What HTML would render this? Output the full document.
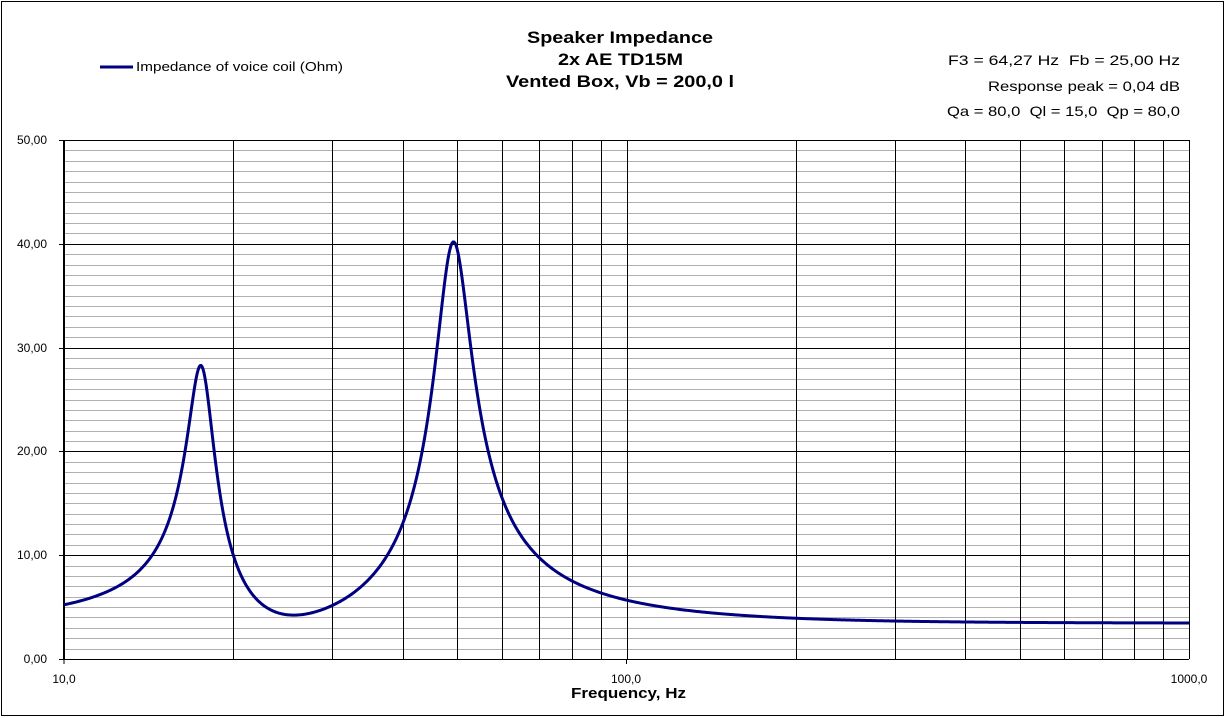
<!DOCTYPE html>
<html><head><meta charset="utf-8"><style>
body{margin:0;background:#fff;}
svg{display:block;font-family:"Liberation Sans",sans-serif;}
</style></head><body>
<svg id="s" width="1226" height="718" xmlns="http://www.w3.org/2000/svg">
<rect x="1.5" y="1.5" width="1222" height="714" fill="#fff" stroke="#000" stroke-width="1"/>
<g id="grid"></g>
<path id="curve" fill="none" stroke="#000080" stroke-width="3" stroke-linejoin="round"/>
<g font-size="12" fill="#000">
<text x="47" y="144" text-anchor="end">50,00</text>
<text x="47" y="248" text-anchor="end">40,00</text>
<text x="47" y="352" text-anchor="end">30,00</text>
<text x="47" y="455" text-anchor="end">20,00</text>
<text x="47" y="559" text-anchor="end">10,00</text>
<text x="47" y="663" text-anchor="end">0,00</text>
<text x="64" y="683" text-anchor="middle">10,0</text>
<text x="626" y="683" text-anchor="middle">100,0</text>
<text x="1189" y="683" text-anchor="middle">1000,0</text>
</g>
<text x="571" y="698" font-size="15" font-weight="bold" textLength="115" lengthAdjust="spacingAndGlyphs">Frequency, Hz</text>
<g font-size="17" font-weight="bold">
<text x="527" y="43" textLength="186" lengthAdjust="spacingAndGlyphs">Speaker Impedance</text>
<text x="558" y="65" textLength="125" lengthAdjust="spacingAndGlyphs">2x AE TD15M</text>
<text x="506" y="87" textLength="228" lengthAdjust="spacingAndGlyphs">Vented Box, Vb = 200,0 l</text>
</g>
<line x1="100" y1="67" x2="133" y2="67" stroke="#000080" stroke-width="3"/>
<text x="136" y="71" font-size="13" textLength="207" lengthAdjust="spacingAndGlyphs">Impedance of voice coil (Ohm)</text>
<g font-size="14">
<text x="948" y="65" textLength="232" lengthAdjust="spacingAndGlyphs">F3 = 64,27 Hz&#160; Fb = 25,00 Hz</text>
<text x="988" y="91" textLength="192" lengthAdjust="spacingAndGlyphs">Response peak = 0,04 dB</text>
<text x="947" y="116" textLength="233" lengthAdjust="spacingAndGlyphs">Qa = 80,0&#160; Ql = 15,0&#160; Qp = 80,0</text>
</g>
</svg>
<script>
var g=document.getElementById('grid'),ns='http://www.w3.org/2000/svg';
function L(x1,y1,x2,y2,c,w){var l=document.createElementNS(ns,'line');l.setAttribute('x1',x1);l.setAttribute('y1',y1);l.setAttribute('x2',x2);l.setAttribute('y2',y2);l.setAttribute('stroke',c);l.setAttribute('stroke-width',w||1);g.appendChild(l);}
var X0=64,X1=1189,Y0=659,Y1=140;
function yv(v){return Y0-(Y0-Y1)*v/50;}
for(var i=1;i<50;i++){if(i%10)L(X0,Math.round(yv(i))+.5,X1,Math.round(yv(i))+.5,'#b0b0b0');}
for(var i=1;i<=5;i++)L(X0,Math.round(yv(i*10))+.5,X1,Math.round(yv(i*10))+.5,'#000');
for(var d=1;d<=2;d++)for(var k=2;k<=10;k++){var x=X0+(X1-X0)/2*(d-1+Math.log10(k));x=Math.round(x)+.5;L(x,Y1,x,Y0,'#000');}
L(X0,Y1,X0,Y0,'#000',2);L(X0-5,Y0+.5,X1,Y0+.5,'#000');
for(var i=0;i<=5;i++)L(X0-5,Math.round(yv(i*10))+.5,X0,Math.round(yv(i*10))+.5,'#000');
L(X0,Y0,X0,Y0+5,'#000');L(626.5,Y0,626.5,Y0+5,'#000');
function fx(x){return Math.pow(10,1+2*(x-X0)/(X1-X0));}
function Z(f,P){var Re=P[0],fs=P[1],Qes=P[2],Qms=P[3],al=P[4],fb=P[5],Ql=P[6];
var w=2*Math.PI*f,ws=2*Math.PI*fs,wb=2*Math.PI*fb;
var C=Qes/(ws*Re),Lc=1/(ws*ws*C),R=Re*Qms/Qes,Lb=Lc/al,Cp=1/(wb*wb*Lb),Rl=Math.sqrt(Lb/Cp)/Ql;
// branch impedance
var br=Rl,bi=w*Lb-1/(w*Cp),bm=br*br+bi*bi;
var yr=1/R+br/bm, yi=w*C-1/(w*Lc)-bi/bm, ym=yr*yr+yi*yi;
var zr=Re+yr/ym, zi=-yi/ym; return Math.sqrt(zr*zr+zi*zi);}
var pts=[[64,606],[110,587],[153,555],[170,517],[185,453],[192,400],[201,370],[210,410],[215,460],[223,510],[232,555],[247,587],[267,607],[293,616],[327,607],[360,588],[387,555],[402,523],[422,452],[430,397],[438,340],[447,273],[454,243],[460,253],[470,347],[487,450],[502,497],[520,537],[540,558],[572,580],[600,593],[627,602],[660,608],[700,612],[800,617],[900,620],[1000,622],[1189,624]];
function err(P){var e=0;for(var i=0;i<pts.length;i++){var y=yv(Z(fx(pts[i][0]),P));var d=y-pts[i][1];e+=d*d;}return e;}
var P=[3.3,34.6,0.4,5,0.78,25,15],st=[0.1,0.1,0.3,0.3,0.2,0.05,0.3],E=err(P);
for(var it=0;it<3000;it++){var imp=false;for(var k=0;k<P.length;k++){for(var s=-1;s<=1;s+=2){var Q=P.slice();Q[k]=P[k]*Math.exp(s*st[k]);var e=err(Q);if(e<E){E=e;P=Q;imp=true;break;}}}
if(!imp){var small=true;for(var k=0;k<st.length;k++){st[k]*=0.6;if(st[k]>1e-5)small=false;}if(small)break;}}
var d='';for(var x=X0;x<=X1;x+=1){var y=yv(Z(fx(x),P));d+=(x==X0?'M':'L')+x+','+y.toFixed(2);}
document.getElementById('curve').setAttribute('d',d);
</script>
</body></html>
